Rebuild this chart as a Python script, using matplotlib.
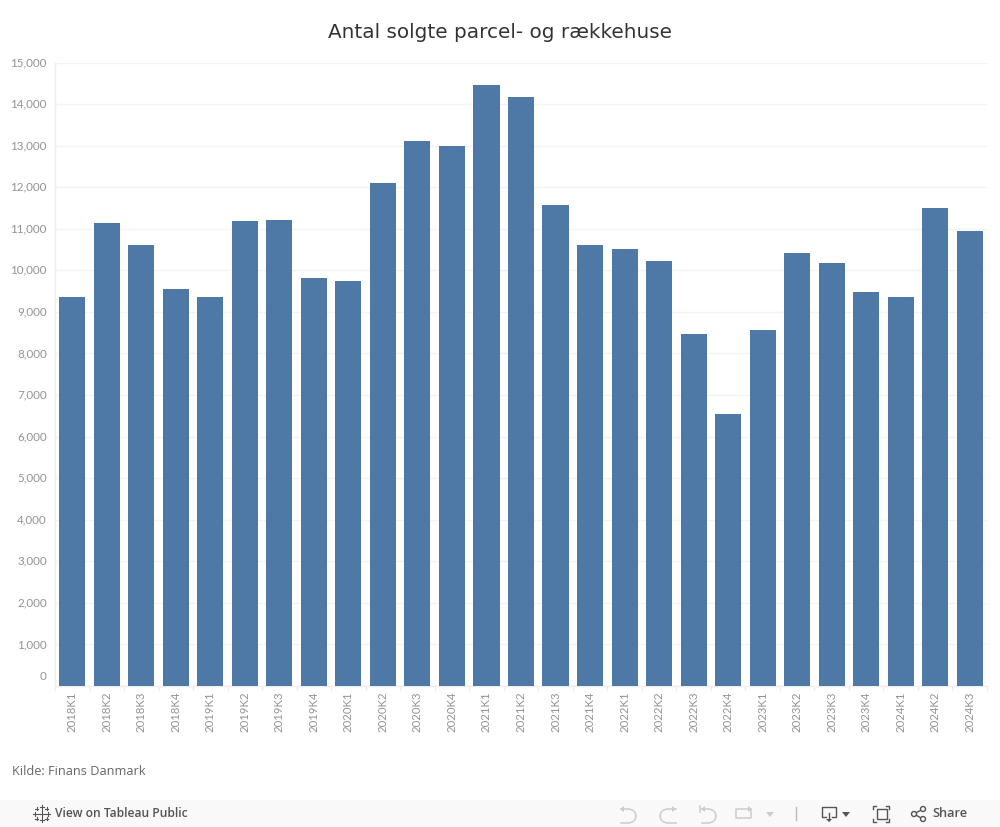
"""Antal solgte parcel- og rækkehuse, kvartalsvis, inkl. Tableau-værktøjslinje."""
import numpy as np
import matplotlib; matplotlib.use("Agg")
import matplotlib.pyplot as plt
from matplotlib.patches import Rectangle, Circle, Arc, Polygon
from matplotlib.transforms import ScaledTranslation

quarters = ["2018K1", "2018K2", "2018K3", "2018K4", "2019K1", "2019K2", "2019K3", "2019K4", "2020K1",
            "2020K2", "2020K3", "2020K4", "2021K1", "2021K2", "2021K3", "2021K4", "2022K1", "2022K2",
            "2022K3", "2022K4", "2023K1", "2023K2", "2023K3", "2023K4", "2024K1", "2024K2", "2024K3"]
sold = [9350, 11150, 10600, 9540, 9350, 11175, 11200, 9805, 9735,
        12090, 13100, 12980, 14450, 14165, 11560, 10600, 10525, 10215,
        8480, 6535, 8555, 10405, 10165, 9490, 9370, 11510, 10935]
yticks = list(range(0, 16000, 1000))

W, H = 1000, 827
BAR = "#4e79a7"; GRID = "#f3f3f3"; TICK = "#939393"
FONT = "Lato"

fig = plt.figure(figsize=(W/100, H/100), dpi=100)
ax = fig.add_axes([55/W, 1-686/H, 932/W, 623.5/H])
x = np.arange(len(quarters))
ax.bar(x, sold, width=.755, color=BAR, zorder=3)
ax.set_xlim(-.5, len(quarters)-.5); ax.set_ylim(0, 15000)
ax.set_yticks(yticks); ax.set_yticklabels([f"{v:,}" for v in yticks], fontsize=8.4, color=TICK, family=FONT, va="center")
ax.set_xticks(x); ax.set_xticklabels(quarters, rotation=90, fontsize=8.2, color=TICK, family=FONT)
ax.tick_params(axis="y", length=0, pad=6)
ax.tick_params(axis="x", length=0, pad=4)
# the 0 label sits above its gridline in the reference
lab0 = ax.get_yticklabels()[0]
lab0.set_transform(lab0.get_transform() + ScaledTranslation(0, 9/100, fig.dpi_scale_trans))
ax.grid(axis="y", color=GRID, lw=1, zorder=0)
for s in ["top", "right"]: ax.spines[s].set_visible(False)
for s in ["left", "bottom"]: ax.spines[s].set_color("#eeeeee"); ax.spines[s].set_linewidth(1)
for i in range(len(quarters)+1):  # small separators below the axis
    ax.plot([i-.5, i-.5], [0, -100], color="#eeeeee", lw=1, clip_on=False, zorder=1)

# overlay in pixel coordinates: title, source, toolbar
ov = fig.add_axes([0, 0, 1, 1], zorder=5); ov.set_xlim(0, W); ov.set_ylim(H, 0); ov.axis("off"); ov.patch.set_alpha(0)
ov.text(500.5, 32.5, "Antal solgte parcel- og rækkehuse", ha="center", va="center", fontsize=14.4, color="#333333", family="DejaVu Sans")
ov.text(12, 771.5, "Kilde: Finans Danmark", ha="left", va="center", fontsize=9.2, color="#666666", family="Open Sans")

ov.add_patch(Rectangle((0, 800), W, 27, color="#f9f9f9", lw=0))
ov.text(55, 813.5, "View on Tableau Public", ha="left", va="center", fontsize=8.7, color="#555555", family="Open Sans", weight="semibold")
ov.text(932, 813.5, "Share", ha="left", va="center", fontsize=9.2, color="#555555", family="Open Sans", weight="semibold")

# Tableau logo
for cx, cy, r in [(41.5, 813.5, 3.5), (41.5, 807, 2), (41.5, 820, 2), (35, 813.5, 2), (48, 813.5, 2),
                  (36.5, 808.5, 1.5), (46.5, 808.5, 1.5), (36.5, 818.5, 1.5), (46.5, 818.5, 1.5)]:
    ov.plot([cx-r, cx+r], [cy, cy], color="#555555", lw=.8); ov.plot([cx, cx], [cy-r, cy+r], color="#555555", lw=.8)

# undo / redo / revert / refresh (disabled)
C1 = "#cccccc"; C2 = "#555555"
ov.add_patch(Arc((628, 816), 16, 14, theta1=-90, theta2=90, color=C1, lw=1.1))
ov.plot([621, 628], [809, 809], color=C1, lw=1.1); ov.plot([621, 628], [823, 823], color=C1, lw=1.1)
ov.add_patch(Polygon([[620, 809], [624, 806], [624, 812]], color=C1, lw=0))
ov.add_patch(Arc((668, 816), 16, 14, theta1=90, theta2=270, color=C1, lw=1.1))
ov.plot([668, 676], [809, 809], color=C1, lw=1.1); ov.plot([668, 676], [823, 823], color=C1, lw=1.1)
ov.add_patch(Polygon([[676, 809], [672, 806], [672, 812]], color=C1, lw=0))
ov.add_patch(Arc((708, 816), 16, 14, theta1=-90, theta2=90, color=C1, lw=1.1))
ov.plot([702, 708], [809, 809], color=C1, lw=1.1); ov.plot([702, 708], [823, 823], color=C1, lw=1.1)
ov.plot([700, 700], [806, 812], color=C1, lw=1.1)
ov.add_patch(Polygon([[701, 809], [705, 806], [705, 812]], color=C1, lw=0))
ov.add_patch(Rectangle((736, 809), 15, 9, fc="none", ec=C1, lw=1.1, joinstyle="round"))
ov.add_patch(Polygon([[752, 809], [748, 806], [748, 812]], color=C1, lw=0))
ov.add_patch(Polygon([[766, 812], [774, 812], [770, 817]], color=C1, lw=0))
ov.plot([795.5, 795.5], [807, 820], color="#bbbbbb", lw=1)

# download, fullscreen, share
ov.plot([826, 822, 822, 836, 836, 832], [817, 817, 807, 807, 817, 817], color=C2, lw=1)
ov.plot([829, 829], [813, 820], color=C2, lw=1)
ov.add_patch(Polygon([[826, 819], [832, 819], [829, 822]], color=C2, lw=0))
ov.add_patch(Polygon([[842, 812], [850, 812], [846, 817]], color=C2, lw=0))
ov.add_patch(Rectangle((877, 809), 10, 10, fc="none", ec=C2, lw=1))
for px, py, dx, dy in [(873, 806, 1, 1), (889, 806, -1, 1), (873, 822, 1, -1), (889, 822, -1, -1)]:
    ov.plot([px+3*dx, px, px], [py, py, py+3*dy], color=C2, lw=1)
ov.plot([914, 923], [814, 809], color=C2, lw=1); ov.plot([914, 923], [814, 819], color=C2, lw=1)
for cx, cy, r in [(914, 814, 2.5), (923, 809, 2.5), (923, 819, 2.5)]:
    ov.add_patch(Circle((cx, cy), r, fc="#f9f9f9", ec=C2, lw=1, zorder=4))

fig.savefig("out.png", dpi=100)
